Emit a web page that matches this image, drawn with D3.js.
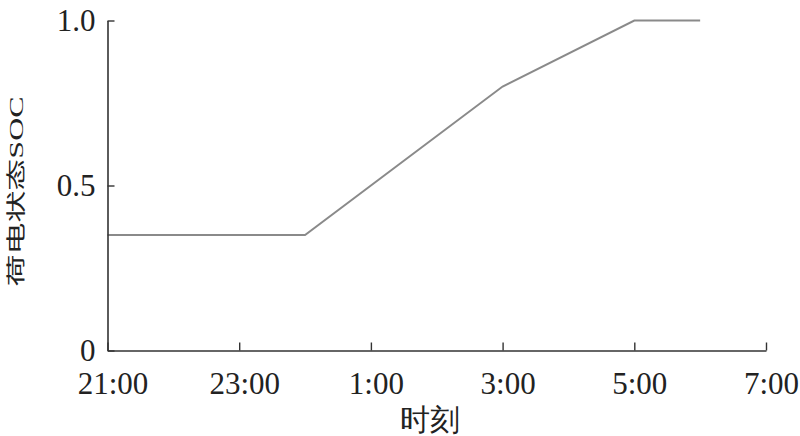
<!DOCTYPE html>
<html><head><meta charset="utf-8">
<script src="https://cdn.jsdelivr.net/npm/d3@7/dist/d3.min.js"></script>
<style>
html,body{margin:0;padding:0;background:#fff;}
svg{display:block;}
text{font-family:"Liberation Serif","Times New Roman",serif;fill:#222;}
</style></head>
<body>
<script>
// Data
const xTickLabels = ["21:00","23:00","1:00","3:00","5:00","7:00"];
const yTickValues = [0, 0.5, 1.0];
const yTickLabels = ["0","0.5","1.0"];
const socTimes = ["21:00","24:00","3:00","5:00","6:00"];
const socValues = [0.35, 0.35, 0.80, 1.00, 1.00];
const xLabel = "时刻";
const yLabel = "荷电状态SOC";

// hours after 21:00
function hoursFrom21(t){
  const h = +t.split(":")[0];
  return h >= 21 ? h - 21 : h + 3;
}

const W = 800, H = 436;
const svg = d3.select("body").append("svg").attr("width", W).attr("height", H);

const x = d3.scaleLinear().domain([0, 10]).range([107.5, 766]);
const y = d3.scaleLinear().domain([0, 1]).range([350.5, 20.5]);

// line
const pts = socTimes.map((t,i)=>[hoursFrom21(t), socValues[i]]);
svg.append("path")
  .datum(pts)
  .attr("fill","none")
  .attr("stroke","#8a8a8a")
  .attr("stroke-width",2)
  .attr("d", d3.line().x(d=>x(d[0])).y(d=>y(d[1])));

// x axis
const xTickVals = xTickLabels.map(hoursFrom21);
const xAxis = d3.axisBottom(x).tickValues(xTickVals).tickSizeInner(-8).tickSizeOuter(0)
  .tickFormat((d,i)=>xTickLabels[i]).tickPadding(0);
const gx = svg.append("g").attr("transform",`translate(0,${y(0)})`).call(xAxis);
gx.select(".domain").attr("stroke","#333").attr("stroke-width",1.6);
gx.selectAll(".tick line").attr("stroke","#333").attr("stroke-width",1.4);
gx.selectAll(".tick text").attr("font-size",31).attr("fill","#222")
  .attr("y",null).attr("dy",null).attr("transform","translate(5,43)");

// y axis
const yAxis = d3.axisLeft(y).tickValues(yTickValues).tickSizeInner(-7).tickSizeOuter(0)
  .tickFormat((d,i)=>yTickLabels[i]);
const gy = svg.append("g").attr("transform",`translate(${x(0)},0)`).call(yAxis);
gy.select(".domain").attr("stroke","#333").attr("stroke-width",1.6);
gy.selectAll(".tick line").attr("stroke","#333").attr("stroke-width",1.4);
gy.selectAll(".tick text").attr("font-size",31).attr("fill","#222")
  .attr("x",-12).attr("dy",null).attr("y",10);

// x label
svg.append("text").attr("x",430).attr("y",430).attr("text-anchor","middle")
  .attr("font-size",30).attr("font-family","'Noto Sans CJK SC','Liberation Serif',serif")
  .text(xLabel);

// y label
svg.append("text")
  .attr("transform","translate(23,191.5) scale(0.6,1) rotate(-90)")
  .attr("text-anchor","middle")
  .attr("font-size",32)
  .selectAll("tspan").data([["荷电状态","'Noto Sans CJK SC',sans-serif"],["SOC","'Liberation Serif',serif"]])
  .join("tspan").attr("font-family",d=>d[1]).text(d=>d[0]);
</script>
</body></html>
